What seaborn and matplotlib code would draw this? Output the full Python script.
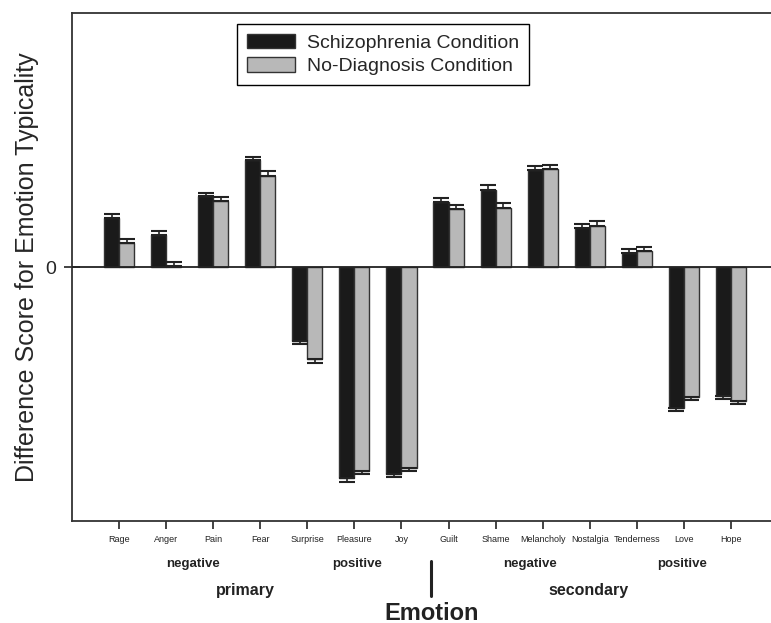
import matplotlib
matplotlib.use('Agg')
import matplotlib.pyplot as plt
import pandas as pd
import seaborn as sns

# Data
emotions = ['Rage', 'Anger', 'Pain', 'Fear', 'Surprise', 'Pleasure', 'Joy',
            'Guilt', 'Shame', 'Melancholy', 'Nostalgia', 'Tenderness', 'Love', 'Hope']
schizo = [0.191, 0.125, 0.278, 0.420, -0.290, -0.832, -0.815,
          0.255, 0.305, 0.380, 0.155, 0.056, -0.554, -0.508]
schizo_err = [0.016, 0.016, 0.015, 0.013, 0.013, 0.013, 0.011,
              0.016, 0.016, 0.017, 0.016, 0.016, 0.012, 0.013]
nodiag = [0.095, 0.005, 0.258, 0.360, -0.363, -0.802, -0.793,
          0.229, 0.233, 0.384, 0.163, 0.064, -0.512, -0.527]
nodiag_err = [0.016, 0.016, 0.017, 0.018, 0.016, 0.013, 0.012,
              0.017, 0.018, 0.017, 0.017, 0.016, 0.013, 0.013]
conditions = ['Schizophrenia Condition', 'No-Diagnosis Condition']

df = pd.DataFrame({
    'emotion': emotions * 2,
    'condition': [conditions[0]] * len(emotions) + [conditions[1]] * len(emotions),
    'score': schizo + nodiag,
})

sns.set_style('white')
plt.rcParams['font.family'] = ['Liberation Sans', 'DejaVu Sans']

fig = plt.figure(figsize=(7.71, 6.23), dpi=100)
W, H = 771, 623
ax = fig.add_axes([72 / W, (H - 521) / H, (W - 72) / W, (521 - 13) / H])

sns.barplot(data=df, x='emotion', y='score', hue='condition', order=emotions,
            hue_order=conditions, palette=['#1a1a1a', '#b8b8b8'], errorbar=None,
            width=0.64, edgecolor='#333333', linewidth=1, ax=ax, zorder=2)

# one-sided error bars, pointing away from zero
for cont, errs in zip(ax.containers, [schizo_err, nodiag_err]):
    for patch, e in zip(cont, errs):
        xc = patch.get_x() + patch.get_width() / 2
        top = patch.get_y() + patch.get_height()
        yerr = [[0], [e]] if top >= 0 else [[e], [0]]
        ax.errorbar(xc, top, yerr=yerr, fmt='none', ecolor='#222222',
                    elinewidth=1.2, capsize=5.5, capthick=1.5, zorder=3)

ax.axhline(0, color='#222222', lw=1.3, zorder=4)

ax.set_xlim(-1, (W - 119) / 47.07)
ax.set_ylim(-1, 1)
ax.set_yticks([0])
ax.set_yticklabels(['0'])
ax.tick_params(axis='y', direction='inout', length=11, width=1.2, pad=6,
               labelsize=14, left=True, color='#222222')
ax.tick_params(axis='x', direction='out', length=6, width=1.2, pad=4,
               labelsize=6.5, bottom=True, color='#222222', labelcolor='#222222')
for side in ['left', 'bottom', 'top']:
    ax.spines[side].set_color('#333333')
    ax.spines[side].set_linewidth(1.3)
ax.spines['right'].set_visible(False)

ax.set_xlabel('')
ax.set_ylabel('Difference Score for Emotion Typicality', fontsize=18)
ax.yaxis.set_label_coords(-0.047, 0.5)

handles, labels = ax.get_legend_handles_labels()
ax.legend(handles, labels, loc='upper left', bbox_to_anchor=(237 / W, 1 - 24 / H),
          bbox_transform=fig.transFigure, fontsize=14, frameon=True, fancybox=False,
          edgecolor='black', framealpha=1, handlelength=2.5, handleheight=0.75,
          handletextpad=0.6, labelspacing=0.3, borderpad=0.5, borderaxespad=0)
ax.get_legend().get_frame().set_linewidth(1.0)

# grouping labels under the axis
tr = ax.get_xaxis_transform()
def ypos(px):
    return (521 - px) / 508

ax.text(1.57, ypos(564), 'negative', transform=tr, ha='center', va='center',
        fontsize=9.5, fontweight='bold', color='#222222')
ax.text(5.05, ypos(564), 'positive', transform=tr, ha='center', va='center',
        fontsize=9.5, fontweight='bold', color='#222222')
ax.text(8.73, ypos(564), 'negative', transform=tr, ha='center', va='center',
        fontsize=9.5, fontweight='bold', color='#222222')
ax.text(11.96, ypos(564), 'positive', transform=tr, ha='center', va='center',
        fontsize=9.5, fontweight='bold', color='#222222')
ax.text(2.68, ypos(591), 'primary', transform=tr, ha='center', va='center',
        fontsize=11.5, fontweight='bold', color='#222222')
ax.text(9.98, ypos(591), 'secondary', transform=tr, ha='center', va='center',
        fontsize=11.5, fontweight='bold', color='#222222')
ax.plot([6.62, 6.62], [ypos(561), ypos(596)], transform=tr, color='#222222',
        lw=2.2, clip_on=False)
ax.text(6.65, ypos(613), 'Emotion', transform=tr, ha='center', va='center',
        fontsize=17, fontweight='bold', color='#222222')

fig.savefig('out.png', dpi=100)
